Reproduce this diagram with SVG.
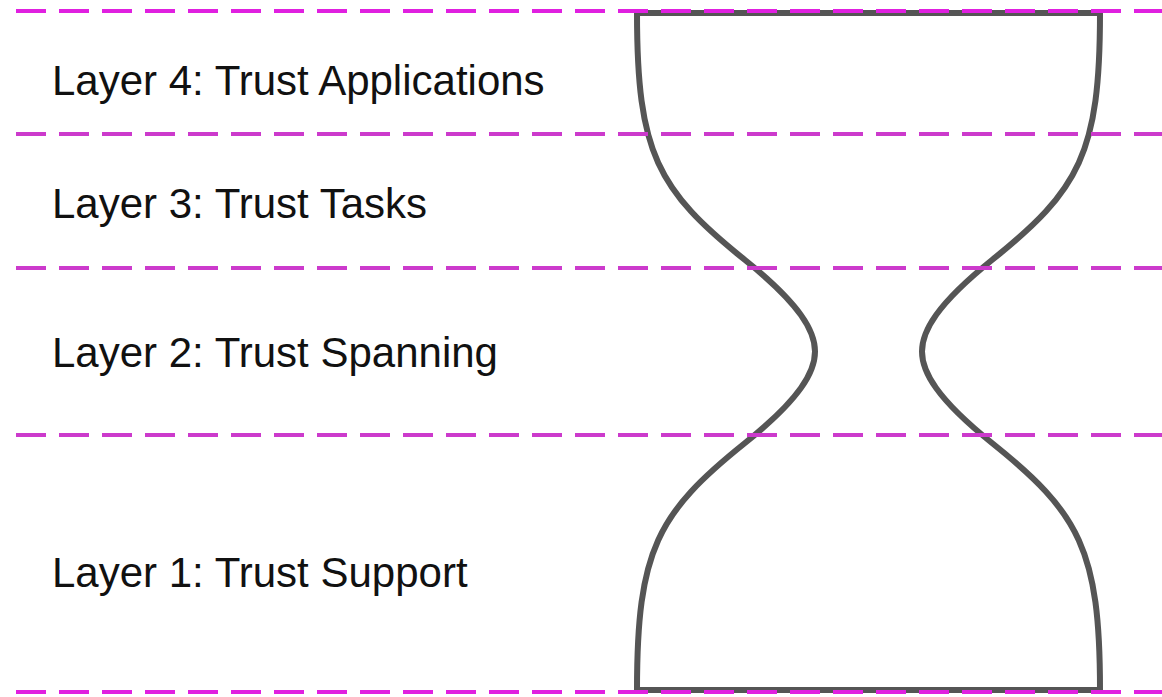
<svg xmlns="http://www.w3.org/2000/svg" width="1162" height="697" viewBox="0 0 1162 697">
<style>
.lbl{font-family:"Liberation Sans",Arial,sans-serif;font-size:42px;fill:#111}
.div{stroke:#cc3acc;stroke-width:4;stroke-dasharray:30 13;fill:none}
.edge{stroke:#e020e0}
.glass{stroke:#555;stroke-width:6;fill:none;stroke-linejoin:round}
</style>
<rect width="1162" height="697" fill="#fff"/>
<g id="hourglass">
<path class="glass" d="M637,13 L1100,13 C1100,153 1079.5,190 992,260 C936,305 922,331.5 922,351.5 C922,371.5 936,398 992,443 C1079.5,513 1100,550 1100,690 L637,690 C637,550 657.5,513 745,443 C801,398 815,371.5 815,351.5 C815,331.5 801,305 745,260 C657.5,190 637,153 637,13 Z"/>
</g>
<g id="connectors">
<line class="div edge" x1="16" y1="11" x2="1162" y2="11"/>
<line class="div" x1="16" y1="134" x2="1162" y2="134"/>
<line class="div" x1="16" y1="268" x2="1162" y2="268"/>
<line class="div" x1="16" y1="435" x2="1162" y2="435"/>
<line class="div edge" x1="16" y1="692" x2="1162" y2="692"/>
</g>
<g id="layer4"><text class="lbl" x="52" y="95">Layer 4: Trust Applications</text></g>
<g id="layer3"><text class="lbl" x="52" y="218">Layer 3: Trust Tasks</text></g>
<g id="layer2"><text class="lbl" x="52" y="367">Layer 2: Trust Spanning</text></g>
<g id="layer1"><text class="lbl" x="52" y="587">Layer 1: Trust Support</text></g>
</svg>
